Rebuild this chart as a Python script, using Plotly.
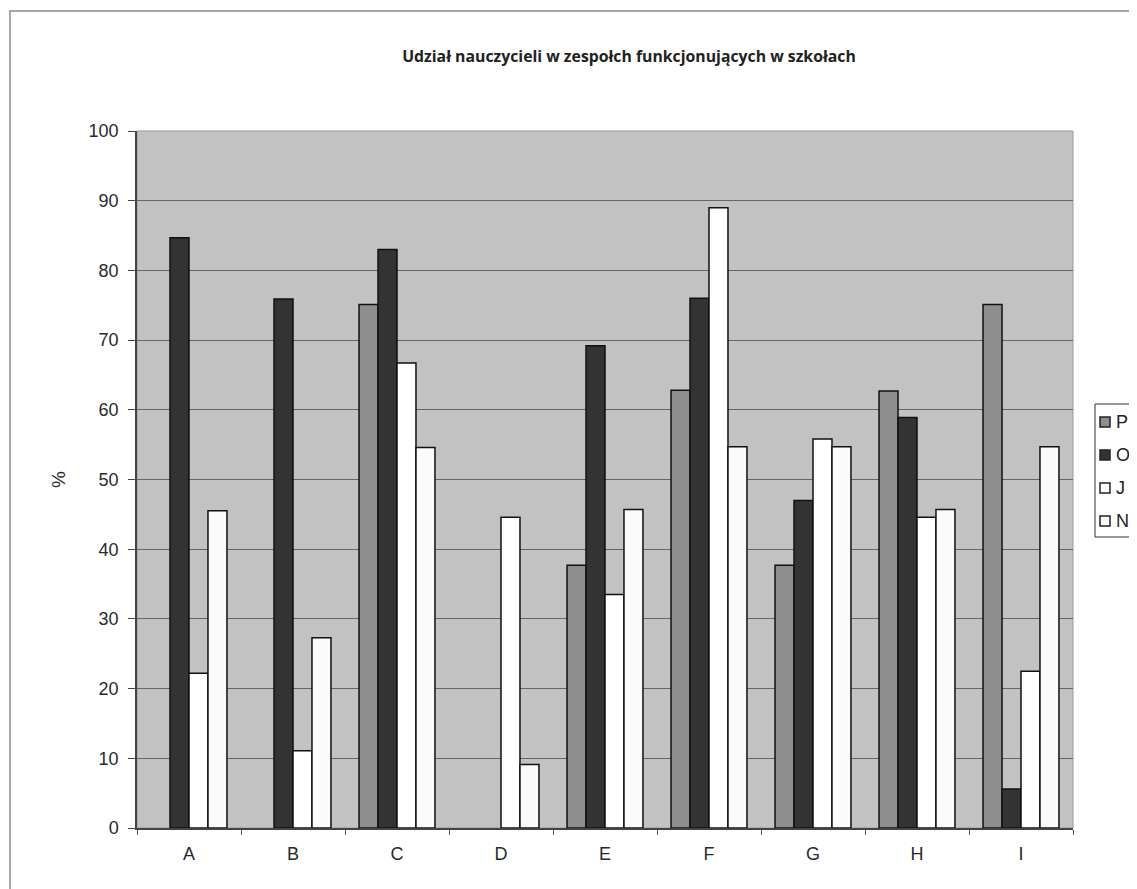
import plotly.graph_objects as go

# Groups along the x axis and the four series (in %)
categories = ['A', 'B', 'C', 'D', 'E', 'F', 'G', 'H', 'I']
series_names = ['P', 'O', 'J', 'N']
p_vals = [0, 0, 75.1, 0, 37.7, 62.8, 37.7, 62.7, 75.1]
o_vals = [84.7, 75.9, 83.0, 0, 69.2, 76.0, 47.0, 58.9, 5.6]
j_vals = [22.2, 11.1, 66.7, 44.6, 33.5, 89.0, 55.8, 44.6, 22.5]
n_vals = [45.5, 27.3, 54.6, 9.1, 45.7, 54.7, 54.7, 45.7, 54.7]
y_ticks = [0, 10, 20, 30, 40, 50, 60, 70, 80, 90, 100]

colors = ['#8e8e8e', '#333333', '#ffffff', '#fbfbfb']

fig = go.Figure()
for name, vals, col in zip(series_names, [p_vals, o_vals, j_vals, n_vals], colors):
    # zero values have no visible bar in the original chart
    shown = [v if v > 0 else None for v in vals]
    fig.add_trace(go.Bar(x=categories, y=shown, name=name, showlegend=False,
                         marker=dict(color=col, line=dict(color='#111111', width=1.5))))


# helpers: page pixel -> paper coords (plot area spans x 137..1073, y 131..828 on the page)
def px(x):
    return (x - 137) / 936


def py(y):
    return (828 - y) / 697


# outer chart border (only top and left edges fall inside the picture)
fig.add_shape(type='rect', xref='paper', yref='paper',
              x0=px(10), x1=px(1160), y0=py(900), y1=py(11),
              line=dict(color='#8a8a8a', width=1.5), layer='below')

# light frame on the top and right of the plot area
fig.add_shape(type='rect', xref='paper', yref='paper', x0=0, x1=1, y0=0, y1=1,
              line=dict(color='#9a9a9a', width=1), layer='below')

# legend box, cut off by the right edge like in the original
fig.add_shape(type='rect', xref='paper', yref='paper',
              x0=px(1095), x1=px(1160), y0=py(537), y1=py(404),
              line=dict(color='#333333', width=1), fillcolor='white')
for i, (name, col) in enumerate(zip(series_names, colors)):
    yc = 422 + i * 33
    fig.add_shape(type='rect', xref='paper', yref='paper',
                  x0=px(1100), x1=px(1110), y0=py(yc + 5), y1=py(yc - 5),
                  line=dict(color='#222222', width=1.5), fillcolor=col)
    fig.add_annotation(xref='paper', yref='paper', x=px(1114), y=py(yc),
                       xanchor='left', yanchor='middle', text=name, showarrow=False,
                       font=dict(family='Liberation Sans', size=18, color='#222222'))

# page body has an 8px margin, so offsets are compensated here
fig.update_layout(
    width=1137, height=889,
    margin=dict(l=129, r=72, t=123, b=69),
    paper_bgcolor='white',
    plot_bgcolor='#c2c2c2',
    barmode='group', bargap=0.27, bargroupgap=0,
    showlegend=False,
    title=dict(text='<b>Udział nauczycieli w zespołch funkcjonujących w szkołach</b>',
               x=(629 - 8) / 1137, xanchor='center', xref='container',
               y=1 - (56 - 8) / 889, yanchor='middle', yref='container',
               font=dict(family='Open Sans', size=15.8, color='#222222')),
    font=dict(family='Liberation Sans', size=18, color='#2a2a2a'),
)

fig.update_xaxes(showline=True, linecolor='#444444', linewidth=1.5, mirror=False,
                 ticks='outside', tickson='boundaries', ticklen=5, tickcolor='#555555',
                 tickfont=dict(size=18), showgrid=False, ticklabelstandoff=9)
fig.update_yaxes(range=[0, 100], tickvals=y_ticks, showline=True, linecolor='#444444',
                 linewidth=1.5, ticks='outside', ticklen=7, tickcolor='#444444',
                 gridcolor='#666666', gridwidth=1, zeroline=False, ticklabelstandoff=6,
                 title=dict(text='%', font=dict(size=19), standoff=18),
                 tickfont=dict(size=18))

fig.write_html("out.html")
